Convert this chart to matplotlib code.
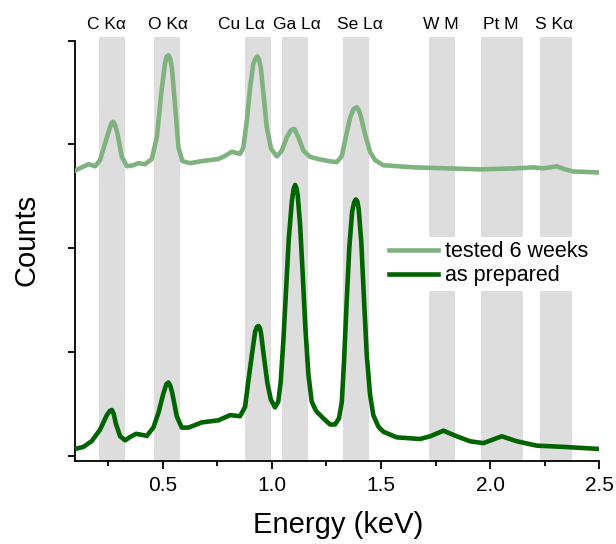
import matplotlib
matplotlib.use("Agg")
import matplotlib.pyplot as plt
import matplotlib.transforms as mtransforms
import numpy as np

plt.rcParams['font.family'] = ['Liberation Sans', 'DejaVu Sans']

# EDS bands (keV) and labels
band_lo = [0.210, 0.462, 0.878, 1.047, 1.325, 1.720, 1.958, 2.228]
band_hi = [0.329, 0.581, 0.997, 1.166, 1.446, 1.839, 2.150, 2.375]
band_names = ["C Kα", "O Kα", "Cu Lα", "Ga Lα", "Se Lα", "W M", "Pt M", "S Kα"]
name_pos = [0.245, 0.523, 0.860, 1.115, 1.402, 1.775, 2.050, 2.294]

# as prepared
e_prep = [0.100, 0.138, 0.176, 0.214, 0.245, 0.258, 0.268, 0.277, 0.286, 0.306, 0.329,
          0.352, 0.379, 0.405, 0.428, 0.458, 0.481, 0.504, 0.518, 0.527, 0.536, 0.545,
          0.565, 0.588, 0.619, 0.680, 0.756, 0.809, 0.855, 0.878, 0.893, 0.909, 0.924,
          0.932, 0.939, 0.946, 0.951, 0.965, 0.980, 0.996, 1.015, 1.030, 1.041, 1.053,
          1.066, 1.078, 1.092, 1.100, 1.107, 1.113, 1.119, 1.130, 1.142, 1.154, 1.168,
          1.183, 1.203, 1.236, 1.267, 1.290, 1.308, 1.321, 1.331, 1.343, 1.355, 1.368,
          1.377, 1.385, 1.392, 1.398, 1.410, 1.423, 1.435, 1.450, 1.465, 1.488, 1.511,
          1.572, 1.679, 1.725, 1.786, 1.847, 1.908, 1.969, 2.007, 2.053, 2.122, 2.213,
          2.335, 2.500]
c_prep = [0.064, 0.084, 0.14, 0.25, 0.39, 0.43, 0.44, 0.40, 0.31, 0.186, 0.147,
          0.18, 0.21, 0.20, 0.19, 0.27, 0.41, 0.60, 0.69, 0.705, 0.67, 0.60,
          0.38, 0.27, 0.27, 0.32, 0.34, 0.39, 0.38, 0.47, 0.72, 0.97, 1.195,
          1.24, 1.25, 1.23, 1.18, 0.94, 0.70, 0.54, 0.465, 0.52, 0.71, 1.10,
          1.61, 2.09, 2.45, 2.57, 2.61, 2.58, 2.51, 2.22, 1.74, 1.23, 0.78,
          0.52, 0.43, 0.36, 0.30, 0.30, 0.36, 0.52, 0.91, 1.48, 2.00, 2.35,
          2.44, 2.47, 2.45, 2.38, 2.06, 1.48, 0.97, 0.59, 0.39, 0.28, 0.23,
          0.176, 0.16, 0.186, 0.24, 0.186, 0.138, 0.12, 0.15, 0.186, 0.138, 0.096,
          0.084, 0.064]

# tested 6 weeks
e_aged = [0.100, 0.131, 0.161, 0.192, 0.214, 0.237, 0.260, 0.268, 0.275, 0.284, 0.294,
          0.314, 0.337, 0.367, 0.390, 0.420, 0.451, 0.474, 0.494, 0.512, 0.520, 0.527,
          0.535, 0.543, 0.558, 0.573, 0.591, 0.626, 0.680, 0.756, 0.786, 0.817, 0.855,
          0.870, 0.886, 0.901, 0.916, 0.926, 0.934, 0.942, 0.950, 0.962, 0.977, 0.997,
          1.023, 1.046, 1.069, 1.089, 1.104, 1.122, 1.145, 1.176, 1.213, 1.259, 1.298,
          1.321, 1.339, 1.359, 1.374, 1.389, 1.399, 1.409, 1.427, 1.450, 1.473, 1.511,
          1.648, 1.801, 1.954, 2.122, 2.198, 2.243, 2.305, 2.343, 2.381, 2.500]
c_aged = [2.75, 2.78, 2.81, 2.79, 2.85, 3.01, 3.17, 3.21, 3.22, 3.18, 3.10,
          2.88, 2.79, 2.80, 2.82, 2.81, 2.86, 3.07, 3.49, 3.79, 3.85, 3.86,
          3.83, 3.74, 3.36, 2.97, 2.84, 2.82, 2.84, 2.86, 2.89, 2.93, 2.91,
          2.97, 3.23, 3.55, 3.78, 3.83, 3.85, 3.82, 3.74, 3.49, 3.17, 2.96,
          2.885, 2.94, 3.07, 3.14, 3.15, 3.07, 2.94, 2.88, 2.86, 2.84, 2.83,
          2.89, 3.07, 3.26, 3.34, 3.36, 3.33, 3.26, 3.10, 2.93, 2.85, 2.80,
          2.78, 2.77, 2.76, 2.77, 2.78, 2.77, 2.79, 2.76, 2.74, 2.73]

fig = plt.figure(figsize=(6.16, 5.44), dpi=100)
ax = fig.add_axes([0.122, 0.153, 0.851, 0.772])

for lo, hi in zip(band_lo, band_hi):
    ax.axvspan(lo, hi, ymin=0, ymax=1.008, color='#dddddd', lw=0, zorder=0, clip_on=False)

ax.plot(e_aged, c_aged, color='#80b280', lw=3.3, label='tested 6 weeks', zorder=3,
        solid_joinstyle='round')
ax.plot(e_prep, c_prep, color='#006400', lw=3.3, label='as prepared', zorder=3,
        solid_joinstyle='round')

trans = mtransforms.blended_transform_factory(ax.transData, ax.transAxes)
for x, s in zip(name_pos, band_names):
    ax.text(x, 1.040, s, transform=trans, ha='center', va='center', fontsize=12.5)

ax.set_xlim(0.1, 2.5)
ax.set_ylim(-0.05, 4.0)
ax.set_xticks([0.5, 1.0, 1.5, 2.0, 2.5])
ax.set_xticklabels(["0.5", "1.0", "1.5", "2.0", "2.5"])
ax.set_xticks([0.25, 0.75, 1.25, 1.75, 2.25], minor=True)
ax.set_yticks([0, 1, 2, 3, 4])
ax.set_yticklabels([])
ax.tick_params(axis='x', which='major', length=6, width=1.3, labelsize=15, pad=5)
ax.tick_params(axis='x', which='minor', length=3.5, width=1.3)
ax.tick_params(axis='y', length=5, width=1.3)
for side in ['top', 'right']:
    ax.spines[side].set_visible(False)
for side in ['left', 'bottom']:
    ax.spines[side].set_linewidth(1.3)

ax.set_xlabel("Energy (keV)", fontsize=21)
ax.set_ylabel("Counts", fontsize=21)
ax.xaxis.set_label_coords(0.502, -0.119)
ax.yaxis.set_label_coords(-0.067, 0.525)

leg = ax.legend(loc='upper left', bbox_to_anchor=(0.59, 0.533), borderaxespad=0,
                fontsize=15.5, frameon=True, facecolor='white', edgecolor='none',
                framealpha=1, fancybox=False, handlelength=2.3, handletextpad=0.3,
                labelspacing=0.15, borderpad=0.2)
leg.set_zorder(5)

fig.savefig("out.png", dpi=100)
